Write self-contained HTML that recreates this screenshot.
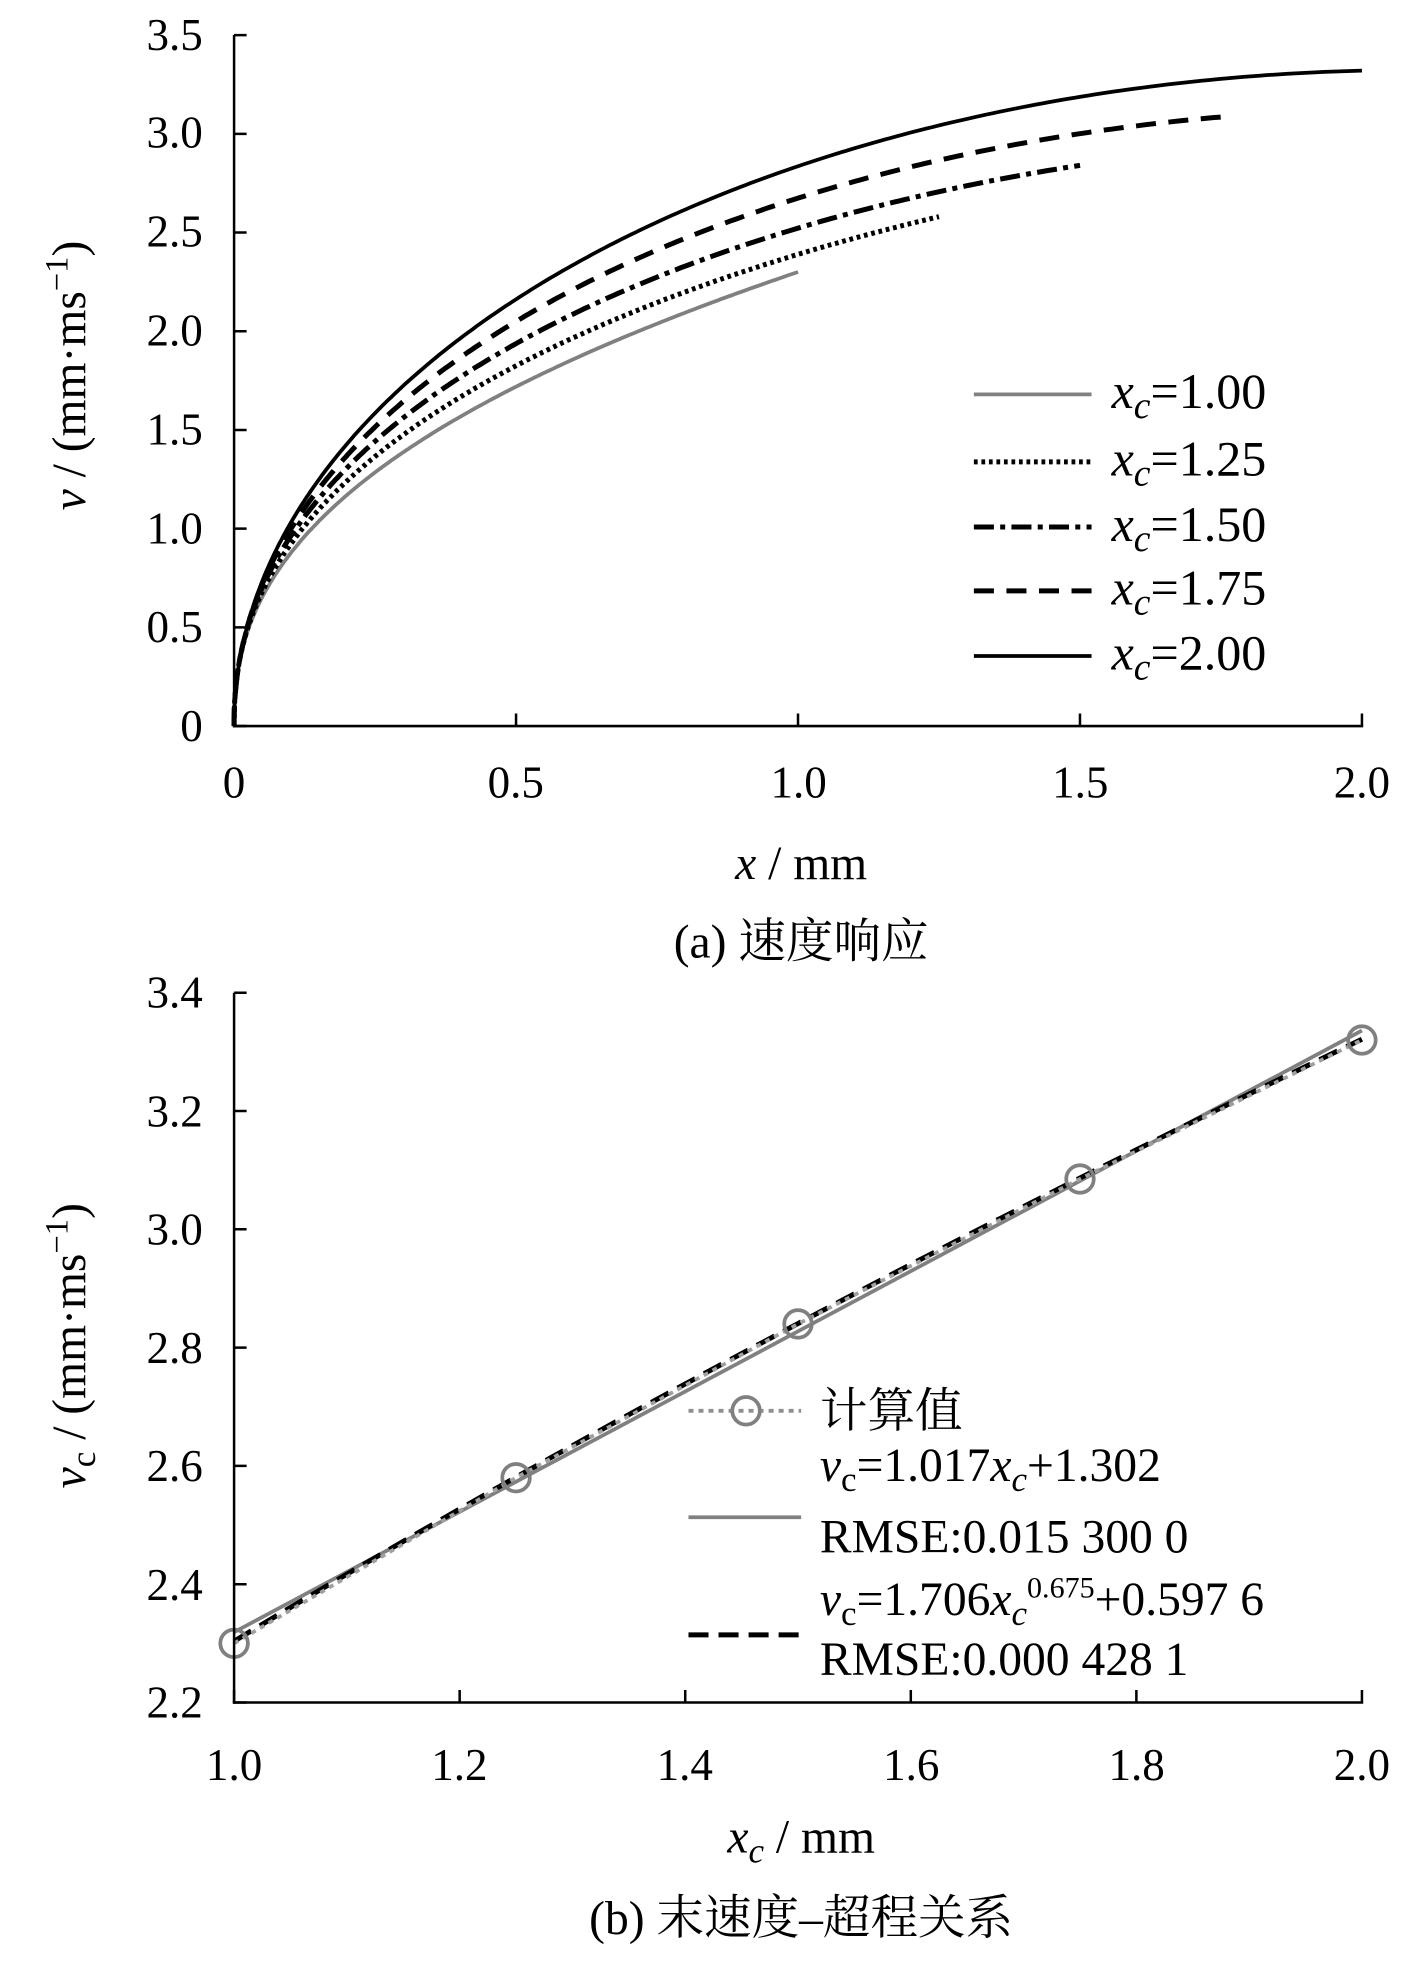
<!DOCTYPE html>
<html><head><meta charset="utf-8"><style>html,body{margin:0;padding:0;background:#fff}svg{display:block}text{font-family:"Liberation Serif","Noto Serif CJK SC",serif;fill:#000}</style></head>
<body>
<svg id="s" width="1402" height="1967" viewBox="0 0 1120 1571.3" preserveAspectRatio="none" xmlns="http://www.w3.org/2000/svg">
<rect width="1120" height="1572" fill="#fff"/>
<g id="a"></g>
<line x1="187" y1="28" x2="187" y2="581" stroke="#000" stroke-width="2"/>
<line x1="186" y1="580" x2="1089" y2="580" stroke="#000" stroke-width="2"/>
<g font-size="36" text-anchor="end">
<text x="162" y="592">0</text><text x="162" y="513">0.5</text><text x="162" y="434">1.0</text><text x="162" y="355">1.5</text><text x="162" y="276">2.0</text><text x="162" y="197">2.5</text><text x="162" y="118">3.0</text><text x="162" y="40">3.5</text>
</g>
<g font-size="36" text-anchor="middle">
<text x="187" y="637">0</text><text x="412" y="637">0.5</text><text x="638" y="637">1.0</text><text x="863" y="637">1.5</text><text x="1088" y="637">2.0</text>
</g>
<text x="640" y="702" font-size="38" text-anchor="middle"><tspan font-style="italic">x</tspan> / mm</text>
<text font-size="38" text-anchor="middle" transform="translate(68,300) rotate(-90)"><tspan font-style="italic">v</tspan> / (mm·ms<tspan dy="-14" font-size="26">−1</tspan><tspan dy="14">)</tspan></text>
<text x="640" y="765" font-size="38" text-anchor="middle">(a)  速度响应</text>
<line x1="778" y1="315" x2="872" y2="315" stroke="#808080" stroke-width="3"/>
<line x1="778" y1="369" x2="872" y2="369" stroke="#000" stroke-width="4" stroke-dasharray="3,3"/>
<line x1="778" y1="421" x2="872" y2="421" stroke="#000" stroke-width="4" stroke-dasharray="16,5,4,5"/>
<line x1="778" y1="472" x2="872" y2="472" stroke="#000" stroke-width="4" stroke-dasharray="16,10"/>
<line x1="778" y1="524" x2="872" y2="524" stroke="#000" stroke-width="3"/>
<g font-size="40">
<text x="888" y="326"><tspan font-style="italic">x<tspan dy="8" font-size="30">c</tspan></tspan><tspan dy="-8">=1.00</tspan></text>
<text x="888" y="380"><tspan font-style="italic">x<tspan dy="8" font-size="30">c</tspan></tspan><tspan dy="-8">=1.25</tspan></text>
<text x="888" y="432"><tspan font-style="italic">x<tspan dy="8" font-size="30">c</tspan></tspan><tspan dy="-8">=1.50</tspan></text>
<text x="888" y="483"><tspan font-style="italic">x<tspan dy="8" font-size="30">c</tspan></tspan><tspan dy="-8">=1.75</tspan></text>
<text x="888" y="535"><tspan font-style="italic">x<tspan dy="8" font-size="30">c</tspan></tspan><tspan dy="-8">=2.00</tspan></text>
</g>
<line x1="187" y1="793" x2="187" y2="1361" stroke="#000" stroke-width="2"/>
<line x1="186" y1="1360" x2="1089" y2="1360" stroke="#000" stroke-width="2"/>
<g font-size="36" text-anchor="end">
<text x="162" y="1372">2.2</text><text x="162" y="1278">2.4</text><text x="162" y="1183">2.6</text><text x="162" y="1089">2.8</text><text x="162" y="994">3.0</text><text x="162" y="900">3.2</text><text x="162" y="805">3.4</text>
</g>
<g font-size="36" text-anchor="middle">
<text x="187" y="1422">1.0</text><text x="367" y="1422">1.2</text><text x="547" y="1422">1.4</text><text x="728" y="1422">1.6</text><text x="908" y="1422">1.8</text><text x="1088" y="1422">2.0</text>
</g>
<text x="640" y="1480" font-size="38" text-anchor="middle"><tspan font-style="italic">x<tspan dy="8" font-size="28">c</tspan></tspan><tspan dy="-8"> / mm</tspan></text>
<text font-size="38" text-anchor="middle" transform="translate(68,1075) rotate(-90)"><tspan font-style="italic">v</tspan><tspan dy="8" font-size="28">c</tspan><tspan dy="-8"> / (mm·ms</tspan><tspan dy="-14" font-size="26">−1</tspan><tspan dy="14">)</tspan></text>
<text x="640" y="1545" font-size="38" text-anchor="middle">(b)  末速度–超程关系</text>
<line x1="550" y1="1127" x2="640" y2="1127" stroke="#909090" stroke-width="3" stroke-dasharray="4,4"/>
<circle cx="596" cy="1127" r="11" fill="none" stroke="#808080" stroke-width="3"/>
<line x1="550" y1="1212" x2="640" y2="1212" stroke="#808080" stroke-width="3"/>
<line x1="550" y1="1306" x2="640" y2="1306" stroke="#000" stroke-width="4" stroke-dasharray="16,8"/>
<g font-size="38">
<text x="655" y="1140">计算值</text>
<text x="655" y="1183"><tspan font-style="italic">v</tspan><tspan dy="8" font-size="28">c</tspan><tspan dy="-8">=1.017</tspan><tspan font-style="italic">x<tspan dy="8" font-size="28">c</tspan></tspan><tspan dy="-8">+1.302</tspan></text>
<text x="655" y="1240">RMSE:0.015 300 0</text>
<text x="655" y="1290"><tspan font-style="italic">v</tspan><tspan dy="8" font-size="28">c</tspan><tspan dy="-8">=1.706</tspan><tspan font-style="italic">x<tspan dy="8" font-size="28">c</tspan></tspan><tspan dy="-22" font-size="24">0.675</tspan><tspan dy="14">+0.597 6</tspan></text>
<text x="655" y="1338">RMSE:0.000 428 1</text>
</g>
</svg>
<script>
var NS="http://www.w3.org/2000/svg",g=document.getElementById('a');
function P(d,st){var p=document.createElementNS(NS,'path');p.setAttribute('d',d);p.setAttribute('fill','none');for(var k in st)p.setAttribute(k,st[k]);g.appendChild(p);}
var t='';
for(var i=0;i<=7;i++){var y=580-i*0.5*157.7;t+='M187 '+y+'h10';}
for(var i=0;i<=4;i++){var x=187+i*0.5*450.5;t+='M'+x+' 580v-10';}
for(var i=0;i<=6;i++){var y=1360-i*94.5;t+='M187 '+y+'h10';}
for(var i=0;i<=5;i++){var x=187+i*180.2;t+='M'+x+' 1360v-10';}
P(t,{stroke:'#000','stroke-width':2});
var cs=[[1,2.30,{stroke:'#808080','stroke-width':3}],[1.25,2.58,{stroke:'#000','stroke-width':4,'stroke-dasharray':'3,3'}],[1.5,2.84,{stroke:'#000','stroke-width':4,'stroke-dasharray':'16,5,4,5'}],[1.75,3.085,{stroke:'#000','stroke-width':4,'stroke-dasharray':'16,10'}],[2,3.32,{stroke:'#000','stroke-width':3}]];
cs.forEach(function(c){var xc=c[0],vc=c[1],w=(xc-1)*0.9,d='';
for(var i=0;i<=300;i++){var u=Math.pow(i/300,2),x=xc*u,f=(1-w)*Math.pow(u,0.42)+w*Math.sqrt(1-(1-u)*(1-u)),v=vc*f;d+=(i?'L':'M')+(187+x*450.5).toFixed(1)+' '+(580-v*157.7).toFixed(1);}
P(d,c[2]);});
function X(x){return 187+(x-1)*901;}function Y(v){return 1360-(v-2.2)*472.5;}
P('M'+X(1)+' '+Y(2.319)+'L'+X(2)+' '+Y(3.336),{stroke:'#808080','stroke-width':3});
var d='';for(var i=0;i<=50;i++){var x=1+i/50,v=1.706*Math.pow(x,0.675)+0.5976;d+=(i?'L':'M')+X(x)+' '+Y(v);}
P(d,{stroke:'#000','stroke-width':4,'stroke-dasharray':'16,8'});
var pts=[[1,2.30],[1.25,2.58],[1.5,2.84],[1.75,3.085],[2,3.32]];
P(pts.map(function(p,i){return (i?'L':'M')+X(p[0])+' '+Y(p[1]);}).join(''),{stroke:'#a0a0a0','stroke-width':3,'stroke-dasharray':'4,4'});
pts.forEach(function(p){var c=document.createElementNS(NS,'circle');c.setAttribute('cx',X(p[0]));c.setAttribute('cy',Y(p[1]));c.setAttribute('r',11);c.setAttribute('fill','none');c.setAttribute('stroke','#808080');c.setAttribute('stroke-width',3);g.appendChild(c);});
</script>
</body></html>
